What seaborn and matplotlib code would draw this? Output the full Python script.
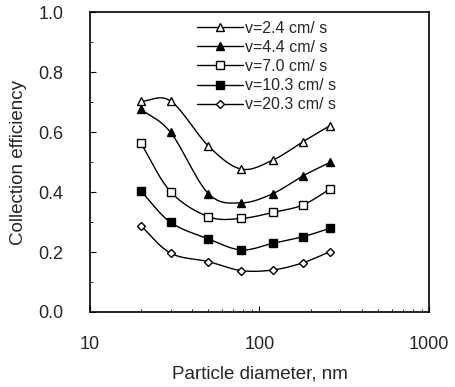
import numpy as np
import pandas as pd
import matplotlib
matplotlib.use("Agg")
import matplotlib.pyplot as plt
import seaborn as sns
from matplotlib.ticker import MultipleLocator, LogLocator, NullFormatter, FormatStrFormatter

# data
DIAMETER = [20, 30, 50, 78, 120, 180, 260]
LABELS = ["v=2.4 cm/ s", "v=4.4 cm/ s", "v=7.0 cm/ s", "v=10.3 cm/ s", "v=20.3 cm/ s"]
EFF_24 = [0.703, 0.704, 0.554, 0.477, 0.507, 0.568, 0.622]
EFF_44 = [0.677, 0.599, 0.395, 0.364, 0.395, 0.454, 0.499]
EFF_70 = [0.564, 0.401, 0.318, 0.312, 0.332, 0.357, 0.410]
EFF_103 = [0.404, 0.299, 0.244, 0.207, 0.229, 0.251, 0.279]
EFF_203 = [0.288, 0.196, 0.168, 0.138, 0.140, 0.164, 0.201]

MARKERS = ["^", "^", "s", "s", "D"]
FILLED = [False, True, False, True, False]
SIZES = [6, 6, 5.5, 5.5, 4.5]

FONT = "Liberation Sans"


def smooth(x, y, n=30):
    """Catmull-Rom style smoothing in log-x space (like spreadsheet smoothed lines)."""
    lx = np.log10(np.asarray(x, float))
    y = np.asarray(y, float)
    # scale so both directions are comparable to screen space
    sx = lx / 2.0
    P = np.column_stack([sx, y])
    P = np.vstack([P[0] - (P[1] - P[0]), P, P[-1] + (P[-1] - P[-2])])
    out = []
    for i in range(1, len(P) - 2):
        p0, p1, p2, p3 = P[i - 1], P[i], P[i + 1], P[i + 2]
        t = np.linspace(0, 1, n)[:, None]
        c1 = p1 + (p2 - p0) / 6.0
        c2 = p2 - (p3 - p1) / 6.0
        seg = ((1 - t) ** 3) * p1 + 3 * ((1 - t) ** 2) * t * c1 + 3 * (1 - t) * t ** 2 * c2 + t ** 3 * p2
        out.append(seg if i == 1 else seg[1:])
    out = np.vstack(out)
    return 10 ** (out[:, 0] * 2.0), out[:, 1]


sns.set_style("ticks")
plt.rcParams['font.family'] = [FONT, 'DejaVu Sans']

fig = plt.figure(figsize=(4.55, 3.87), dpi=100)
ax = fig.add_axes([0.197, 0.194, 0.7465, 0.774])

series = [EFF_24, EFF_44, EFF_70, EFF_103, EFF_203]
handles = []
for vals, lab, mk, filled, ms in zip(series, LABELS, MARKERS, FILLED, SIZES):
    sx, sy = smooth(DIAMETER, vals)
    ax.plot(sx, sy, color="black", lw=1.0, zorder=2)
    df = pd.DataFrame({"d": DIAMETER, "e": vals})
    sns.lineplot(data=df, x="d", y="e", ax=ax, linestyle="none", marker=mk,
                 markersize=ms, markerfacecolor="black" if filled else "white",
                 markeredgecolor="black", markeredgewidth=1.0, zorder=3)
    h, = ax.plot([], [], color="black", lw=1.0, marker=mk, markersize=ms,
                 markerfacecolor="black" if filled else "white",
                 markeredgecolor="black", markeredgewidth=1.0)
    handles.append(h)

ax.set_xscale("log")
ax.set_xlim(10, 1000)
ax.set_ylim(0, 1.0)
ax.yaxis.set_major_locator(MultipleLocator(0.2))
ax.yaxis.set_minor_locator(MultipleLocator(0.1))
ax.yaxis.set_major_formatter(FormatStrFormatter("%.1f"))
ax.xaxis.set_minor_locator(LogLocator(base=10, subs=np.arange(2, 10)))
ax.xaxis.set_minor_formatter(NullFormatter())
ax.set_xticks([10, 100, 1000])
ax.set_xticklabels(["10", "100", "1000"])

ax.tick_params(axis="both", which="both", direction="in", color="black")
ax.tick_params(axis="both", which="major", length=4, width=0.8, labelsize=13)
ax.tick_params(axis="both", which="minor", length=2.5, width=0.6)
ax.tick_params(axis="x", which="major", pad=17)
ax.tick_params(axis="y", which="major", pad=19)

for s in ax.spines.values():
    s.set_linewidth(1.2)
    s.set_color("black")

ax.set_xlabel("Particle diameter, nm", fontsize=13.5, labelpad=9)
ax.set_ylabel("Collection efficiency", fontsize=13.5, labelpad=8)

ax.legend(handles, LABELS, loc="upper left", bbox_to_anchor=(0.315, 0.972),
          frameon=False, fontsize=11.5, handlelength=2.9, handletextpad=0.1,
          labelspacing=0.26, borderpad=0, borderaxespad=0)

fig.savefig("out.png", dpi=100, facecolor="white")
